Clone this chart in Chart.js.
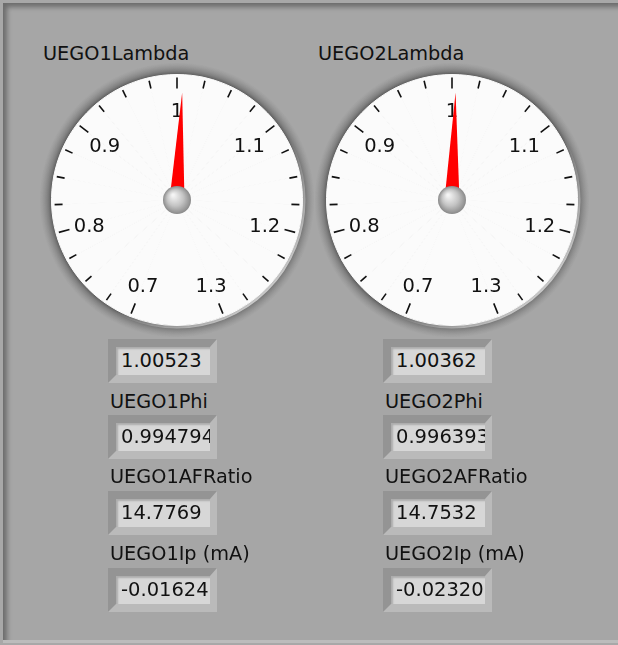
<!DOCTYPE html>
<html>
<head>
<meta charset="utf-8">
<script src="https://cdn.jsdelivr.net/npm/chart.js@4.4.1/dist/chart.umd.min.js"></script>
<style>
    body {
        margin: 0;
        width: 618px;
        height: 645px;
        overflow: hidden;
        position: relative;
        background: #a8a8a8;
        font-family: 'DejaVu Sans', sans-serif;
    }
    #panel {
        position: absolute;
        left: 3px;
        top: 3px;
        width: 700px;
        height: 637px;
        background: #a6a6a6;
        box-shadow: inset 7px 7px 5px -3px rgba(0, 0, 0, 0.35);
        border-bottom: 3px solid #bcbcbc;
    }
    .lbl {
        position: absolute;
        font-size: 19.3px;
        line-height: 22px;
        color: #111;
        white-space: nowrap;
    }
    .box {
        position: absolute;
        box-sizing: border-box;
        width: 109px;
        height: 44px;
        border: 8px solid;
        border-right-width: 7px;
        border-color: #949494 #bababa #bababa #949494;
        background: #a9a9a9;
    }
    .field {
        width: 100%;
        height: 100%;
        background: #d7d7d7;
        box-shadow: inset 2px 2px 2px rgba(0, 0, 0, 0.2);
        overflow: hidden;
        white-space: nowrap;
        font-size: 19.5px;
        line-height: 28px;
        padding-left: 5px;
        box-sizing: border-box;
        color: #111;
    }
    canvas {
        position: absolute;
    }
</style>
</head>
<body>
<div id="panel"></div>
<script>
    // gauge data
    const gaugeTitles = ['UEGO1Lambda', 'UEGO2Lambda'];
    const lambdaValues = [1.00523, 1.00362];
    const scaleLabels = ['0.7', '0.8', '0.9', '1', '1.1', '1.2', '1.3'];
    const scaleMin = 0.7;
    const scaleMax = 1.3;
    const minorStep = 0.025;

    // indicator data
    const indicatorNames = ['Phi', 'AFRatio', 'Ip (mA)'];
    const phiValues = [0.994794, 0.996393];
    const afrValues = [14.7769, 14.7532];
    const ipValues = [-0.016243, -0.023203];

    const sweep = 316;
    Chart.defaults.font.family = "'DejaVu Sans', sans-serif";

    // dial bezel, ticks, labels, needle
    const gaugePlugin = {
        id: 'gauge',
        beforeDatasetsDraw(chart) {
            const arc = chart.getDatasetMeta(0).data[0];
            const ctx = chart.ctx;
            const cx = arc.x, cy = arc.y, R = arc.outerRadius;
            ctx.save();
            let g = ctx.createRadialGradient(cx, cy, R - 2, cx, cy, R + 12);
            g.addColorStop(0, 'rgba(40,40,40,0.8)');
            g.addColorStop(0.4, 'rgba(80,80,80,0.45)');
            g.addColorStop(1, 'rgba(120,120,120,0)');
            ctx.fillStyle = g;
            ctx.beginPath();
            ctx.arc(cx, cy, R + 12, 0, Math.PI * 2);
            ctx.fill();
            let h = ctx.createLinearGradient(cx - R, cy - R, cx + R, cy + R);
            h.addColorStop(0, 'rgba(255,255,255,0)');
            h.addColorStop(0.6, 'rgba(255,255,255,0)');
            h.addColorStop(1, 'rgba(255,255,255,0.95)');
            ctx.strokeStyle = h;
            ctx.lineWidth = 3;
            ctx.beginPath();
            ctx.arc(cx, cy, R + 1.5, 0, Math.PI * 2);
            ctx.stroke();
            ctx.restore();
        },
        afterDatasetsDraw(chart, args, opts) {
            const arcs = chart.getDatasetMeta(0).data;
            const n = arcs.length - 1;
            const ctx = chart.ctx;
            const cx = arcs[0].x, cy = arcs[0].y, R = arcs[0].outerRadius;
            const majorEvery = Math.round(0.1 / minorStep);
            ctx.save();
            // ticks
            ctx.strokeStyle = '#111';
            ctx.lineWidth = 1.6;
            for (let i = 0; i <= n; i++) {
                const a = i < n ? arcs[i].startAngle : arcs[n - 1].endAngle;
                const r0 = i % majorEvery === 0 ? R - 14 : R - 11;
                ctx.beginPath();
                ctx.moveTo(cx + Math.cos(a) * r0, cy + Math.sin(a) * r0);
                ctx.lineTo(cx + Math.cos(a) * (R - 3), cy + Math.sin(a) * (R - 3));
                ctx.stroke();
            }
            // labels
            ctx.fillStyle = '#111';
            ctx.font = "19.5px 'DejaVu Sans'";
            ctx.textAlign = 'center';
            ctx.textBaseline = 'middle';
            scaleLabels.forEach((t, k) => {
                const i = k * majorEvery;
                const a = i < n ? arcs[i].startAngle : arcs[n - 1].endAngle;
                ctx.fillText(t, cx + Math.cos(a) * 91, cy + Math.sin(a) * 91 + 2.5);
            });
            // needle
            const a0 = arcs[0].startAngle, a1 = arcs[n - 1].endAngle;
            const v = opts.value;
            const a = a0 + (v - scaleMin) / (scaleMax - scaleMin) * (a1 - a0);
            const tip = R - 18;
            const px = -Math.sin(a), py = Math.cos(a);
            ctx.fillStyle = '#ff0000';
            ctx.beginPath();
            ctx.moveTo(cx + Math.cos(a) * tip, cy + Math.sin(a) * tip);
            ctx.lineTo(cx + px * 7.5, cy + py * 7.5);
            ctx.lineTo(cx - px * 7.5, cy - py * 7.5);
            ctx.closePath();
            ctx.fill();
            // hub
            const hg = ctx.createRadialGradient(cx - 4, cy - 5, 1, cx, cy, 14);
            hg.addColorStop(0, '#f4f4f4');
            hg.addColorStop(0.55, '#c4c4c4');
            hg.addColorStop(1, '#8a8a8a');
            ctx.fillStyle = hg;
            ctx.beginPath();
            ctx.arc(cx, cy, 14, 0, Math.PI * 2);
            ctx.fill();
            ctx.restore();
        },
    };

    function addLabel(text, left, top) {
        const d = document.createElement('div');
        d.className = 'lbl';
        d.style.left = left + 'px';
        d.style.top = top + 'px';
        d.textContent = text;
        document.body.appendChild(d);
    }

    function addBox(value, left, top) {
        const b = document.createElement('div');
        b.className = 'box';
        b.style.left = left + 'px';
        b.style.top = top + 'px';
        const f = document.createElement('div');
        f.className = 'field';
        f.textContent = String(value);
        b.appendChild(f);
        document.body.appendChild(b);
    }

    function buildGauge(idx, off) {
        const cvs = document.createElement('canvas');
        cvs.width = 280;
        cvs.height = 280;
        cvs.style.left = 37 + off + 'px';
        cvs.style.top = '60px';
        document.body.appendChild(cvs);

        // scale segments + closing gap
        const steps = Math.round((scaleMax - scaleMin) / minorStep);
        const segs = [];
        for (let i = 0; i < steps; i++) segs.push(minorStep);
        segs.push((scaleMax - scaleMin) * (360 - sweep) / sweep);

        new Chart(cvs, {
            type: 'doughnut',
            data: {
                labels: segs.map((s, i) => i),
                datasets: [{
                    data: segs,
                    backgroundColor: '#fbfbfb',
                    borderColor: '#fbfbfb',
                    borderWidth: 1,
                }],
            },
            options: {
                responsive: false,
                animation: false,
                events: [],
                cutout: 0,
                rotation: -sweep / 2,
                layout: { padding: 14 },
                plugins: {
                    legend: { display: false },
                    tooltip: { enabled: false },
                    gauge: { value: lambdaValues[idx] },
                },
            },
            plugins: [gaugePlugin],
        });
    }

    const colOffsets = [0, 275];
    colOffsets.forEach((off, idx) => {
        const prefix = 'UEGO' + (idx + 1);
        addLabel(gaugeTitles[idx], 43 + off, 43);
        buildGauge(idx, off);
        addBox(lambdaValues[idx], 108 + off, 339);
        addLabel(prefix + indicatorNames[0], 110 + off, 391);
        addBox(phiValues[idx], 108 + off, 415);
        addLabel(prefix + indicatorNames[1], 110 + off, 466);
        addBox(afrValues[idx], 108 + off, 491);
        addLabel(prefix + indicatorNames[2], 110 + off, 543);
        addBox(ipValues[idx], 108 + off, 568);
    });
</script>
</body>
</html>
